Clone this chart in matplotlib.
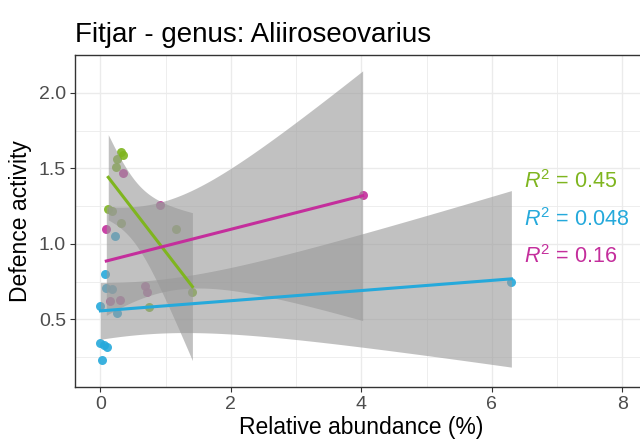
import numpy as np
import matplotlib
matplotlib.use('Agg')
import matplotlib.pyplot as plt

plt.rcParams['font.family'] = ['Liberation Sans', 'DejaVu Sans']
plt.rcParams['mathtext.fontset'] = 'custom'
plt.rcParams['mathtext.rm'] = 'Liberation Sans'
plt.rcParams['mathtext.it'] = 'Liberation Sans:italic'

# dane
green_x = [0.32, 0.34, 0.26, 0.24, 0.12, 0.18, 0.32, 1.16, 1.41, 0.74]
green_y = [1.61, 1.59, 1.56, 1.51, 1.23, 1.22, 1.14, 1.10, 0.68, 0.58]

blue_x = [0.22, 0.07, 0.09, 0.17, 0.0, 0.25, 0.0, 0.05, 0.10, 0.02, 6.30]
blue_y = [1.05, 0.80, 0.71, 0.70, 0.59, 0.54, 0.34, 0.33, 0.32, 0.23, 0.75]

pink_x = [0.34, 0.91, 0.09, 0.68, 0.71, 0.14, 0.30, 4.02]
pink_y = [1.47, 1.26, 1.10, 0.72, 0.68, 0.62, 0.63, 1.32]

r2_labels = ['0.45', '0.048', '0.16']
colors = ['#7FB51F', '#25A9DB', '#C42E9C']
# kwantyle t(0.975, n-2)
t_vals = {6: 2.447, 8: 2.306, 9: 2.262}

groups = [(green_x, green_y), (blue_x, blue_y), (pink_x, pink_y)]

fig = plt.figure(figsize=(6.4, 4.45), dpi=100)
ax = fig.add_axes([75 / 640, 1 - 387 / 445, 1.01 - 75 / 640, (387 - 55) / 445])

# punkty
for (x, y), c in zip(groups, colors):
    ax.scatter(x, y, s=42, color=c, alpha=0.9, linewidths=0, zorder=2)

# linie regresji z przedziałem ufności (jak geom_smooth)
for (x, y), c in zip(groups, colors):
    x = np.array(x)
    y = np.array(y)
    n = len(x)
    slope, intercept = np.polyfit(x, y, 1)
    xs = np.linspace(x.min(), x.max(), 80)
    ys = slope * xs + intercept
    resid = y - (slope * x + intercept)
    s = np.sqrt(np.sum(resid ** 2) / (n - 2))
    sxx = np.sum((x - x.mean()) ** 2)
    se = s * np.sqrt(1 / n + (xs - x.mean()) ** 2 / sxx)
    ci = t_vals[n - 2] * se
    ax.fill_between(xs, ys - ci, ys + ci, color='#999999', alpha=0.6, linewidth=0, zorder=3)
    ax.plot(xs, ys, color=c, lw=2.2, zorder=4)

# R^2
text_y = [1.37, 1.116, 0.873]
for lab, c, ty in zip(r2_labels, colors, text_y):
    ax.text(6.5, ty, f'$R^2$ = {lab}', color=c, fontsize=15.5, va='baseline', ha='left', zorder=5)

ax.set_xlim(-0.39, 8.37)
ax.set_ylim(0.052, 2.25)
ax.set_xticks([0, 2, 4, 6, 8])
ax.set_xticks([1, 3, 5, 7], minor=True)
ax.set_yticks([0.5, 1.0, 1.5, 2.0])
ax.set_yticklabels(['0.5', '1.0', '1.5', '2.0'])
ax.set_yticks([0.25, 0.75, 1.25, 1.75], minor=True)
ax.grid(which='major', color='#EBEBEB', lw=1.0, zorder=0)
ax.grid(which='minor', color='#EBEBEB', lw=0.6, zorder=0)
ax.set_axisbelow(True)
ax.tick_params(which='major', length=3.5, width=0.8, color='#333333', labelcolor='#4D4D4D',
               labelsize=14, pad=3)
ax.tick_params(which='minor', length=0)
for sp in ax.spines.values():
    sp.set_color('#333333')
    sp.set_linewidth(1.0)

ax.set_xlabel('Relative abundance (%)', fontsize=16.5, color='black', labelpad=2)
ax.set_ylabel('Defence activity', fontsize=16.5, color='black', labelpad=5)
ax.set_title('Fitjar - genus: Aliiroseovarius', fontsize=20, loc='left', pad=9)

fig.savefig('out.png', dpi=100)
